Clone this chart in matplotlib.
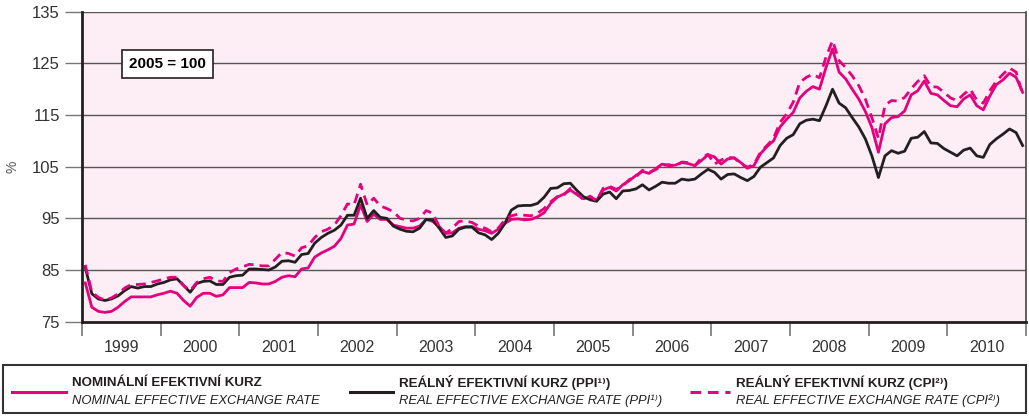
import matplotlib
matplotlib.use('Agg')

import numpy as np
import matplotlib.pyplot as plt
from matplotlib.lines import Line2D
from matplotlib.patches import Rectangle

# monthly values, Jan 1999 - Dec 2010 (2005 = 100)
nominal = [
    82.5, 77.8, 77.0, 76.8, 77.0, 77.8, 78.9, 79.8, 79.8, 79.8, 79.8, 80.2,
    80.5, 80.9, 80.5, 79.1, 78.0, 79.7, 80.5, 80.5, 79.9, 80.2, 81.6, 81.6,
    81.6, 82.6, 82.5, 82.3, 82.3, 82.8, 83.6, 83.9, 83.7, 85.2, 85.4, 87.5,
    88.3, 88.9, 89.6, 91.1, 93.7, 93.9, 97.6, 94.4, 95.8, 94.8, 94.8, 93.7,
    93.4, 93.1, 93.1, 93.5, 94.8, 94.4, 93.4, 92.1, 92.2, 93.1, 93.4, 93.4,
    92.9, 92.6, 92.1, 92.9, 94.0, 94.8, 94.9, 94.7, 94.8, 95.3, 96.1, 97.9,
    99.1, 99.7, 100.5, 99.6, 98.8, 99.1, 98.5, 100.5, 101.0, 100.3, 101.5, 102.3,
    103.3, 104.1, 103.7, 104.6, 105.5, 105.2, 105.3, 105.8, 105.6, 105.2, 106.2, 107.3,
    106.9, 105.5, 106.5, 106.7, 105.8, 104.7, 105.2, 107.5, 108.9, 110.0, 112.7, 114.2,
    115.5, 118.3, 119.6, 120.5, 120.0, 124.2, 127.8, 123.3, 122.0, 120.0, 118.1, 115.7,
    112.6, 107.8, 113.3, 114.5, 114.7, 115.8, 118.9, 119.7, 121.6, 119.2, 118.9, 117.8,
    116.8, 116.6, 118.1, 118.9, 116.8, 116.0, 118.7, 120.9, 121.8, 123.1, 122.3, 119.4,
]

real_ppi = [
    85.5, 80.4, 79.4, 79.1, 79.4, 80.0, 81.0, 81.8, 81.5, 81.8, 81.8, 82.3,
    82.6, 83.1, 83.3, 82.0, 80.7, 82.4, 82.8, 82.9, 82.2, 82.2, 83.6, 83.9,
    84.0, 85.2, 85.2, 85.1, 85.0, 85.6, 86.7, 86.8, 86.5, 88.0, 88.2, 90.2,
    91.3, 92.1, 92.7, 93.7, 95.6, 95.6, 98.9, 95.0, 96.5, 95.2, 95.0, 93.5,
    92.9, 92.5, 92.4, 93.1, 94.8, 94.7, 93.1, 91.3, 91.6, 92.9, 93.3, 93.3,
    92.2, 91.8, 90.9, 92.1, 94.0, 96.6, 97.4, 97.5, 97.5, 97.9, 99.1, 100.8,
    100.9, 101.7, 101.8, 100.4, 99.2, 98.6, 98.3, 99.7, 100.1, 98.8, 100.3, 100.4,
    100.7, 101.5, 100.5, 101.2, 102.0, 101.8, 101.8, 102.6, 102.4, 102.6, 103.6, 104.5,
    103.9, 102.6, 103.5, 103.6, 102.9, 102.3, 103.1, 104.9, 105.8, 106.7, 109.1, 110.5,
    111.2, 113.3, 114.0, 114.2, 113.9, 116.8, 120.0, 117.3, 116.4, 114.5, 112.7, 110.4,
    107.1, 102.9, 107.1, 108.1, 107.6, 108.0, 110.5, 110.7, 111.8, 109.6, 109.5, 108.5,
    107.8, 107.1, 108.2, 108.6, 107.1, 106.8, 109.3, 110.4, 111.3, 112.3, 111.6, 109.1,
]

real_cpi = [
    86.0, 80.7, 79.7, 79.2, 79.6, 80.4, 81.5, 82.2, 82.2, 82.3, 82.6, 82.9,
    83.3, 83.6, 83.6, 82.0, 81.0, 82.6, 83.3, 83.6, 82.9, 82.8, 84.5, 85.2,
    85.6, 86.1, 86.0, 85.8, 85.8, 87.1, 88.4, 88.2, 87.7, 89.3, 89.7, 91.3,
    92.4, 92.9, 93.7, 95.5, 97.8, 97.6, 101.6, 97.6, 98.9, 97.4, 96.9, 96.3,
    95.0, 94.7, 94.5, 95.0, 96.5, 96.0, 93.4, 92.1, 93.1, 94.4, 94.5, 94.2,
    93.5, 93.1, 92.4, 93.1, 94.7, 95.5, 95.8, 95.6, 95.5, 96.0, 96.9, 98.2,
    99.2, 99.5, 100.8, 99.8, 98.6, 99.3, 98.4, 100.8, 101.2, 100.6, 101.3, 102.5,
    103.0, 104.3, 103.9, 104.4, 105.3, 105.4, 105.1, 105.9, 105.8, 105.2, 106.7, 107.4,
    105.5, 106.3, 106.8, 106.7, 105.6, 104.9, 105.4, 107.8, 109.1, 110.5, 113.6, 115.2,
    117.5, 121.3, 122.3, 122.9, 122.2, 126.2, 129.4, 125.5, 124.2, 122.6, 120.7, 118.1,
    114.5, 110.5, 116.9, 117.8, 117.7, 118.4, 120.1, 121.5, 122.6, 120.5, 120.4, 119.4,
    118.3, 117.8, 119.0, 120.0, 117.9, 117.3, 119.7, 121.6, 122.9, 124.1, 123.3, 119.1,
]

years = list(range(1999, 2011))

PINK = '#e5007d'
BLACK = '#231f20'
FONT = ['Liberation Sans', 'DejaVu Sans']
plt.rcParams['font.family'] = FONT

x = 1999 + (np.arange(len(nominal)) + 0.5) / 12.0

fig = plt.figure(figsize=(10.29, 4.16), dpi=100)
ax = fig.add_axes([0.0797, 0.2267, 0.9173, 0.7452])
ax.set_facecolor('#fdedf4')

ax.plot(x, nominal, color=PINK, lw=2.0, zorder=3)
ax.plot(x, real_ppi, color=BLACK, lw=2.0, zorder=4)
ax.plot(x, real_cpi, color=PINK, lw=2.0, ls=(0, (3.5, 2.2)), zorder=5)

ax.set_xlim(1999, 2011)
ax.set_ylim(75, 135)
ax.set_yticks(range(75, 136, 10))
ax.yaxis.grid(True, color='#555555', lw=1.0)
ax.set_axisbelow(True)

ax.set_xticks(range(1999, 2012))
ax.set_xticklabels([])
ax.set_xticks([y + 0.5 for y in years], minor=True)
ax.set_xticklabels([str(y) for y in years], minor=True)
ax.tick_params(axis='x', which='major', length=10, width=1.2, color='#777777', direction='out')
ax.tick_params(axis='x', which='minor', length=0, pad=13, labelsize=11.5, labelcolor='#333333')
ax.tick_params(axis='y', length=12, width=1.0, color='#777777', labelsize=12, labelcolor='#333333', pad=4)

ax.spines['top'].set_visible(False)
ax.spines['left'].set_linewidth(2.0)
ax.spines['left'].set_color(BLACK)
ax.spines['bottom'].set_linewidth(2.0)
ax.spines['bottom'].set_color(BLACK)
ax.spines['right'].set_linewidth(1.2)
ax.spines['right'].set_color('#444444')

ax.set_ylabel('%', fontsize=10, color='#555555')
ax.yaxis.set_label_coords(-0.066, 0.5)

ax.text(0.05, 0.832, '2005 = 100', transform=ax.transAxes, fontsize=11,
        fontweight='bold', va='center',
        bbox=dict(boxstyle='square,pad=0.45', fc='white', ec=BLACK, lw=1.2), zorder=6)

# legend box under the chart
W, H = 1029.0, 416.0
fig.patches.append(Rectangle((3 / W, 3 / H), 1023 / W, 48 / H, transform=fig.transFigure,
                             fill=False, ec='#333333', lw=1.5))

entries = [
    (12, 66, PINK, '-', 'NOMINÁLNÍ EFEKTIVNÍ KURZ', 'NOMINAL EFFECTIVE EXCHANGE RATE'),
    (350, 393, BLACK, '-', 'REÁLNÝ EFEKTIVNÍ KURZ (PPI¹⁾)', 'REAL EFFECTIVE EXCHANGE RATE (PPI¹⁾)'),
    (690, 730, PINK, (0, (3.5, 2.2)), 'REÁLNÝ EFEKTIVNÍ KURZ (CPI²⁾)', 'REAL EFFECTIVE EXCHANGE RATE (CPI²⁾)'),
]
for x0, x1, col, ls, t1, t2 in entries:
    fig.lines.append(Line2D([x0 / W, x1 / W], [1 - 392 / H, 1 - 392 / H], transform=fig.transFigure,
                            color=col, lw=2.2, ls=ls))
    fig.text((x1 + 6) / W, 1 - 383 / H, t1, fontsize=9.6, fontweight='bold', color=BLACK, va='center')
    fig.text((x1 + 6) / W, 1 - 401 / H, t2, fontsize=9.4, style='italic', color=BLACK, va='center')

fig.savefig('out.png', dpi=100, facecolor='white')
